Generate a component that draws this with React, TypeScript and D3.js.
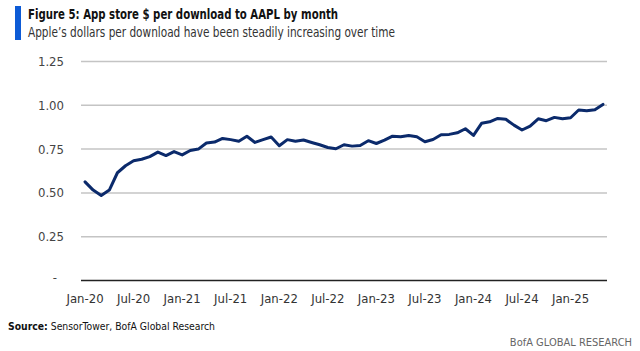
import React from 'react';
import * as d3 from 'd3';

// months Jan-20 .. May-25
const months = d3.timeMonths(new Date(2020, 0, 1), new Date(2025, 5, 1));

const dollarsPerDownload = [
  0.563, 0.516, 0.485, 0.516, 0.615, 0.655, 0.683, 0.692, 0.707, 0.733, 0.713, 0.736,
  0.717, 0.742, 0.75, 0.785, 0.79, 0.811, 0.804, 0.795, 0.823, 0.788, 0.804, 0.819,
  0.769, 0.804, 0.795, 0.802, 0.788, 0.775, 0.759, 0.752, 0.775, 0.767, 0.771, 0.798,
  0.782, 0.801, 0.824, 0.82, 0.828, 0.82, 0.792, 0.805, 0.832, 0.834, 0.843, 0.866,
  0.828, 0.897, 0.906, 0.925, 0.92, 0.887, 0.859, 0.881, 0.923, 0.912, 0.931, 0.923,
  0.929, 0.973, 0.969, 0.975, 1.005,
];

const yTicks = [0.25, 0.5, 0.75, 1.0, 1.25];

const fmtMonth = d3.timeFormat('%b-%y');
const font = "'DejaVu Sans Condensed', 'DejaVu Sans', sans-serif";

export default function App() {
  const width = 640;
  const height = 351;

  const x = d3
    .scaleBand<number>()
    .domain(months.map((_, i) => i))
    .range([81, 607])
    .paddingInner(0);

  const y = d3.scaleLinear().domain([0, 1.25]).range([280.5, 61.5]);

  const line = d3
    .line<number>()
    .x((_, i) => (x(i) as number) + x.bandwidth() / 2)
    .y((d) => y(d));

  return (
    <svg
      width={width}
      height={height}
      style={{ position: 'absolute', left: 0, top: 0, background: '#fff' }}
      fontFamily={font}
    >
      <rect x={15} y={6} width={6} height={34} fill="#0d5bd6" />
      <text x={28} y={19} fontSize={14.5} fontWeight="bold" fill="#111" textLength={310} lengthAdjust="spacingAndGlyphs">
        Figure 5: App store $ per download to AAPL by month
      </text>
      <text x={28} y={37} fontSize={13.5} fill="#333" textLength={367} lengthAdjust="spacingAndGlyphs">
        Apple’s dollars per download have been steadily increasing over time
      </text>

      {yTicks.map((t) => (
        <g key={t}>
          <line x1={81} x2={607} y1={y(t)} y2={y(t)} stroke="#c4c4c4" strokeWidth={1.5} />
          <text x={64} y={y(t)} dy="0.35em" textAnchor="end" fontSize={13} fill="#444">
            {d3.format('.2f')(t)}
          </text>
        </g>
      ))}
      <text x={57} y={y(0)} dy="0.1em" textAnchor="end" fontSize={13} fill="#444">
        -
      </text>
      <line x1={81} x2={607} y1={y(0)} y2={y(0)} stroke="#222" strokeWidth={1.5} />

      {months.map((m, i) =>
        i % 6 === 0 ? (
          <text
            key={i}
            x={(x(i) as number) + x.bandwidth() / 2}
            y={303}
            textAnchor="middle"
            fontSize={13}
            fill="#333"
          >
            {fmtMonth(m)}
          </text>
        ) : null
      )}

      <path
        d={line(dollarsPerDownload) || ''}
        fill="none"
        stroke="#0b2a6b"
        strokeWidth={3}
        strokeLinejoin="round"
        strokeLinecap="round"
      />

      <text x={8} y={330} fontSize={11} fill="#111" textLength={207} lengthAdjust="spacingAndGlyphs">
        <tspan fontWeight="bold">Source:</tspan> SensorTower, BofA Global Research
      </text>
      <text x={632} y={346} textAnchor="end" fontSize={11} fill="#666">
        BofA GLOBAL RESEARCH
      </text>
    </svg>
  );
}
